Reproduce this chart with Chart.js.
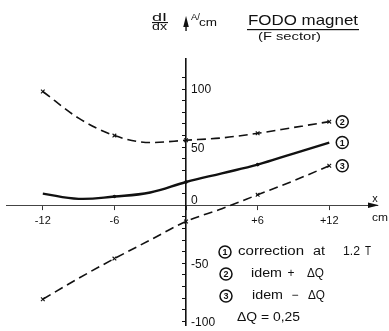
<!DOCTYPE html>
<html><head><meta charset="utf-8">
<script src="https://cdn.jsdelivr.net/npm/chart.js@4.4.1/dist/chart.umd.min.js"></script>
<style>html,body{margin:0;padding:0;background:#fff;overflow:hidden}#wrap{width:389px;height:331px}</style>
</head><body><div id="wrap"><canvas id="c" width="389" height="331"></canvas></div>
<script>
// ---- data ----
const xValues = [-12, -9, -6, -3, 0, 3, 6, 9, 12];
const curve1 = [10, 5.5, 7.5, 11, 20, 27.5, 35, 44.5, 54];      // (1) correction at 1.2 T
const curve2 = [98, 75, 60, 54, 56, 58, 62, 67, 72];            // (2) idem + dQ
const curve3 = [-81, -63, -46, -30, -14, -3, 9, 21, 34];        // (3) idem - dQ
const markerX = [-12, -6, 0, 6, 12];
const dotX1 = [-6, 0, 6];
const xTickValues = [-12, -6, 0, 6, 12];
const xTickLabels = ['-12', '-6', '', '+6', '+12'];
const yTickValues = [-100, -90, -80, -70, -60, -50, -40, -30, -20, -10, 0, 10, 20, 30, 40, 50, 60, 70, 80, 90, 100, 110];
const yLabelValues = [100, 50, -50, -100];
const yLabelTexts = ['100', '50', '-50', '-100'];
const curveTags = ['1', '2', '3'];
const legendTexts = [['correction', 'at', '1.2', 'T'], ['idem', '+', 'ΔQ'], ['idem', '−', 'ΔQ']];
const noteText = 'ΔQ = 0,25';
const titleText = 'FODO magnet';
const subtitleText = '(F sector)';

const INK = '#111';
const F = "'Liberation Sans', Arial, sans-serif";
const pts = ys => xValues.map((x, i) => ({x, y: ys[i]}));

function txt(ctx, s, x, y, w, align) {
  ctx.save();
  ctx.textBaseline = 'middle';
  ctx.textAlign = 'left';
  const m = ctx.measureText(s).width;
  let sx = 1;
  if (w) sx = w / m;
  let left = x;
  if (align === 'center') left = x - (w || m) / 2;
  ctx.translate(left, y);
  ctx.scale(sx, 1);
  ctx.fillText(s, 0, 0);
  ctx.restore();
}
function circled(ctx, d, cx, cy) {
  ctx.save();
  ctx.beginPath();
  ctx.lineWidth = 1.5;
  ctx.arc(cx, cy, 6, 0, Math.PI * 2);
  ctx.stroke();
  ctx.font = 'bold 9px ' + F;
  ctx.textAlign = 'center';
  ctx.textBaseline = 'middle';
  ctx.fillText(d, cx, cy + 0.5);
  ctx.restore();
}

const annot = {
  id: 'annot',
  afterDraw(chart) {
    const {ctx, scales: {x, y}} = chart;
    const x0 = x.getPixelForValue(0), y0 = y.getPixelForValue(0);
    ctx.save();
    ctx.fillStyle = INK; ctx.strokeStyle = INK;
    // y tick labels (right of axis)
    ctx.font = '12px ' + F;
    yLabelValues.forEach((v, i) => txt(ctx, yLabelTexts[i], x0 + 5, y.getPixelForValue(v) + 1));
    txt(ctx, '0', x0 + 5, y0 - 5);
    // y axis arrow
    ctx.beginPath();
    ctx.moveTo(x0, 16); ctx.lineTo(x0 - 2.8, 27); ctx.lineTo(x0 + 2.8, 27); ctx.closePath(); ctx.fill();
    ctx.fillRect(x0 - 0.7, 27, 1.4, 4);
    // x axis arrow
    const xr = chart.chartArea.right;
    ctx.beginPath();
    ctx.moveTo(xr + 2, y0); ctx.lineTo(xr - 9, y0 - 2.8); ctx.lineTo(xr - 9, y0 + 2.8); ctx.closePath(); ctx.fill();
    ctx.font = '11px ' + F;
    txt(ctx, 'x', 375, 199, 0, 'center');
    txt(ctx, 'cm', 380, 218, 16, 'center');
    // axis unit label
    ctx.font = '10px ' + F;
    txt(ctx, 'dI', 152, 18, 15);
    txt(ctx, 'dx', 152, 27, 15);
    ctx.fillRect(152, 22, 16, 1.1);
    ctx.font = '9px ' + F;
    txt(ctx, 'A/', 191, 18, 9);
    ctx.font = '11px ' + F;
    txt(ctx, 'cm', 199, 23, 18);
    // title
    ctx.font = '15px ' + F;
    txt(ctx, titleText, 248, 21, 110);
    ctx.fillRect(247, 29, 112, 1.2);
    ctx.font = '11px ' + F;
    txt(ctx, subtitleText, 258, 37, 63);
    // curve tags at line ends
    const ends = [curve1, curve2, curve3];
    ends.forEach((c, i) => circled(ctx, curveTags[i], x.getPixelForValue(xValues[xValues.length - 1]) + 13, y.getPixelForValue(c[c.length - 1])));
    // legend block
    ctx.font = '12px ' + F;
    circled(ctx, '1', 225, 252);
    txt(ctx, legendTexts[0][0], 238, 252, 66);
    txt(ctx, legendTexts[0][1], 313, 252, 12);
    txt(ctx, legendTexts[0][2], 343, 252, 17);
    txt(ctx, legendTexts[0][3], 365, 252, 6);
    circled(ctx, '2', 226, 274);
    txt(ctx, legendTexts[1][0], 251, 274, 31);
    txt(ctx, legendTexts[1][1], 291, 274, 0, 'center');
    txt(ctx, legendTexts[1][2], 307, 274, 17);
    circled(ctx, '3', 226, 296);
    txt(ctx, legendTexts[2][0], 252, 296, 31);
    txt(ctx, legendTexts[2][1], 295, 296, 0, 'center');
    txt(ctx, legendTexts[2][2], 308, 296, 17);
    txt(ctx, noteText, 237, 318, 63);
    ctx.restore();
  }
};

new Chart(document.getElementById('c'), {
  type: 'line',
  data: {
    datasets: [
      {label: '1', data: pts(curve1), borderColor: INK, borderWidth: 2.4, tension: 0.4,
       pointRadius: c => dotX1.includes(xValues[c.dataIndex]) ? 1.8 : 0, pointBackgroundColor: INK, pointBorderWidth: 0},
      {label: '2', data: pts(curve2), borderColor: INK, borderWidth: 1.6, borderDash: [9, 5], cubicInterpolationMode: 'monotone',
       pointStyle: 'crossRot', pointRadius: c => markerX.includes(xValues[c.dataIndex]) ? 2.6 : 0, pointBorderColor: INK, pointBorderWidth: 1.1},
      {label: '3', data: pts(curve3), borderColor: INK, borderWidth: 1.6, borderDash: [9, 5], cubicInterpolationMode: 'monotone',
       pointStyle: 'crossRot', pointRadius: c => markerX.includes(xValues[c.dataIndex]) ? 2.6 : 0, pointBorderColor: INK, pointBorderWidth: 1.1}
    ]
  },
  options: {
    responsive: false, animation: false, devicePixelRatio: 1,
    layout: {padding: {left: 7, right: 12, top: 59, bottom: 0}},
    plugins: {legend: {display: false}, tooltip: {enabled: false}},
    scales: {
      x: {type: 'linear', min: -15, max: 16, position: {y: 0},
          afterBuildTicks: s => { s.ticks = xTickValues.map(v => ({value: v})); },
          grid: {drawOnChartArea: false, drawTicks: true, tickLength: 4, color: '#333', lineWidth: 1},
          border: {color: '#444', width: 1.1},
          ticks: {color: INK, font: {family: F, size: 11}, padding: 5, maxRotation: 0, autoSkip: false,
                  callback: v => { const i = xTickValues.indexOf(v); return i < 0 ? '' : xTickLabels[i]; }}},
      y: {type: 'linear', min: -104, max: 126, position: {x: 0},
          afterBuildTicks: s => { s.ticks = yTickValues.map(v => ({value: v})); },
          grid: {drawOnChartArea: false, drawTicks: true, tickLength: 3, color: INK, lineWidth: 1},
          border: {color: INK, width: 1.6},
          ticks: {display: false}}
    }
  },
  plugins: [annot]
});
</script>
</body></html>
